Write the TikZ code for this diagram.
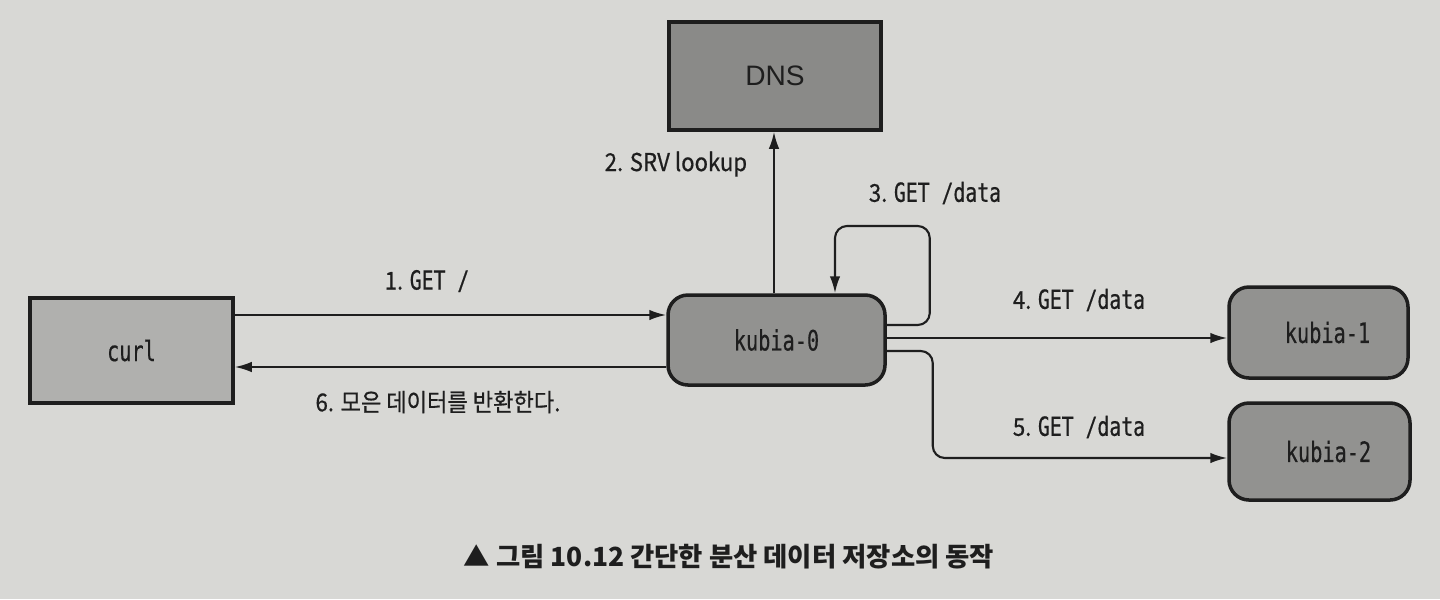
\documentclass[tikz,border=0pt]{standalone}
\usepackage{fontspec}
\setmainfont{Liberation Sans}
\setmonofont[FakeStretch=0.72,FakeBold=0.4]{DejaVu Sans Mono}
\newfontfamily\lblmono[FakeStretch=0.75,FakeBold=0.5]{DejaVu Sans Mono}
\newfontfamily\korfont[FakeStretch=0.9,FakeBold=0.6]{Noto Sans CJK KR}
\newfontfamily\capfont{Noto Sans CJK KR}
\usetikzlibrary{calc,positioning,arrows.meta}
\definecolor{paper}{RGB}{216,216,213}
\definecolor{ink}{RGB}{30,30,30}
\definecolor{dnsgray}{RGB}{138,138,136}
\definecolor{curlgray}{RGB}{176,176,174}
\definecolor{podgray}{RGB}{146,146,144}

\begin{document}
\begin{tikzpicture}[x=0.2mm, y=-0.2mm, line width=1.2pt, draw=ink, >={Latex[length=3.4mm,width=2.1mm]},
	box/.style={draw=ink, line width=2pt, fill=#1, text=ink, inner sep=0pt},
	pod/.style={box=podgray, rounded corners=4mm, font=\ttfamily\fontsize{16}{18}\selectfont},
	lbl/.style={text=ink, font=\korfont\fontsize{14}{16}\selectfont}]

\fill[paper] (0,0) rectangle (1440,599);
\useasboundingbox (0,0) rectangle (1440,599);

\node[box=dnsgray, minimum width=42.4mm, minimum height=21.6mm, font=\fontsize{16}{18}\selectfont] (dns) at (775,76) {DNS};
\node[box=curlgray, minimum width=40.6mm, minimum height=21mm, font=\ttfamily\fontsize{16}{18}\selectfont] (curl) at (131.5,350.5) {curl};
\node[pod, minimum width=43.4mm, minimum height=18mm] (kubia0) at (776.5,340) {kubia-0};
\node[pod, minimum width=35.8mm, minimum height=18.2mm] (kubia1) at (1318.5,332.5) {\hspace*{3.6mm}kubia-1};
\node[pod, minimum width=36.2mm, minimum height=19.4mm] (kubia2) at (1319.5,451.5) {\hspace*{3.6mm}kubia-2};

\draw[->] ($(curl.east |- kubia0.west)+(0,-25)$) -- ($(kubia0.west)+(0,-25)$);
\draw[->] ($(kubia0.north)+(-2.5,0)$) -- ($(kubia0.north |- dns.south)+(-2.5,0)$) node[lbl, pos=0.8, left=4mm] (l2) {2. SRV lookup};
\draw[->, rounded corners=2.4mm] ($(kubia0.east)+(0,-15)$) -| ++(43,-99) -| ($(kubia0.north)+(58.5,0)$);
\draw[->] ($(kubia0.east)+(0,-2)$) -- ($(kubia0.east -| kubia1.west)+(0,-2)$);
\draw[->, rounded corners=2.4mm] ($(kubia0.east)+(0,11)$) -- ++(46,0) |- ($(kubia2.west)+(0,6.5)$);
\draw[->] ($(kubia0.west)+(0,27)$) -- ($(curl.east |- kubia0.west)+(0,27)$);

\node[lbl] (l1) at (427,281) {1. {\lblmono\fontsize{15}{17}\selectfont GET /}};
\node[lbl] (l3) at (935,193) {3. {\lblmono\fontsize{15}{17}\selectfont GET /data}};
\node[lbl] (l4) at (1079,300) {4. {\lblmono\fontsize{15}{17}\selectfont GET /data}};
\node[lbl] (l5) at (1079,427) {5. {\lblmono\fontsize{15}{17}\selectfont GET /data}};
\node[lbl] (l6) at (438,402) {6. 모은 데이터를 반환한다.};
%\node at (729,580) {};
\node[text=ink, font=\capfont\bfseries\fontsize{15}{17}\selectfont] (cap) at (729,557) {▲ 그림 10.12 간단한 분산 데이터 저장소의 동작};
\end{tikzpicture}
\end{document}
